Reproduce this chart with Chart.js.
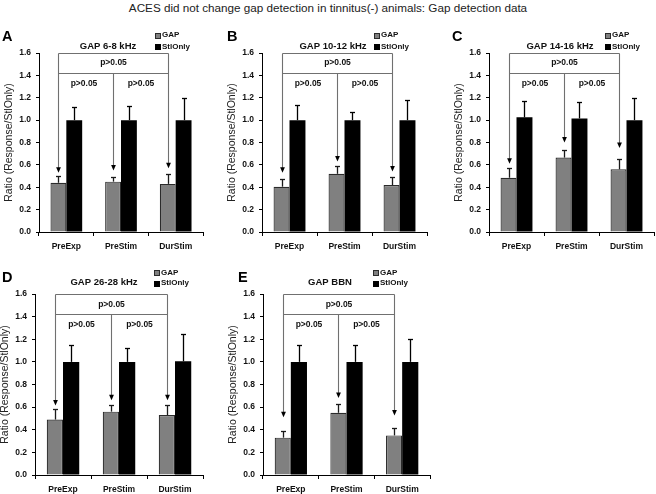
<!DOCTYPE html>
<html><head><meta charset="utf-8">
<script src="https://cdn.jsdelivr.net/npm/chart.js@4.4.1/dist/chart.umd.min.js"></script>
<style>
html,body{margin:0;padding:0;background:#fff;}
body{width:656px;height:494px;position:relative;overflow:hidden;}
#mainTitle{position:absolute;left:0;top:1px;width:656px;text-align:center;font:11.7px "Liberation Sans",Arial,sans-serif;color:#222;white-space:nowrap;}
canvas{position:absolute;}
</style></head><body>
<div id="mainTitle">ACES did not change gap detection in tinnitus(-) animals: Gap detection data</div>
<canvas id="cA"></canvas><canvas id="cB"></canvas><canvas id="cC"></canvas><canvas id="cD"></canvas><canvas id="cE"></canvas>
<script>
// ---- data ----
const categories = ['PreExp', 'PreStim', 'DurStim'];
const seriesNames = ['GAP', 'StlOnly'];
const yTickLabels = ['0.0', '0.2', '0.4', '0.6', '0.8', '1.0', '1.2', '1.4', '1.6'];
const panelLetters = ['A', 'B', 'C', 'D', 'E'];
const panelTitles = ['GAP 6-8 kHz', 'GAP 10-12 kHz', 'GAP 14-16 kHz', 'GAP 26-28 kHz', 'GAP BBN'];
const pLabel = 'p>0.05';

const gapA = [0.44, 0.45, 0.43];
const gapErrA = [0.065, 0.04, 0.085];
const stlA = [1.0, 1.0, 1.0];
const stlErrA = [0.12, 0.13, 0.20];
const arrowA = [0.53, 0.55, 0.57];

const gapB = [0.405, 0.52, 0.42];
const gapErrB = [0.065, 0.07, 0.07];
const stlB = [1.0, 1.0, 1.0];
const stlErrB = [0.135, 0.075, 0.18];
const arrowB = [0.53, 0.63, 0.54];

const gapC = [0.485, 0.665, 0.56];
const gapErrC = [0.085, 0.07, 0.095];
const stlC = [1.025, 1.015, 1.0];
const stlErrC = [0.145, 0.145, 0.195];
const arrowC = [0.61, 0.80, 0.75];

const gapD = [0.49, 0.56, 0.53];
const gapErrD = [0.09, 0.06, 0.09];
const stlD = [1.0, 1.0, 1.005];
const stlErrD = [0.15, 0.12, 0.245];
const arrowD = [0.615, 0.66, 0.66];

const gapE = [0.33, 0.55, 0.35];
const gapErrE = [0.06, 0.075, 0.065];
const stlE = [1.0, 1.0, 1.0];
const stlErrE = [0.15, 0.145, 0.20];
const arrowE = [0.51, 0.68, 0.525];

// bracket levels in data units
const bracketTop = 1.6;
const bracketMid = 1.42;
const pTopLevel = 1.51;
const pLowLevel = 1.33;

// ---- layout (pixels) ----
const panelData = [
  [gapA, gapErrA, stlA, stlErrA, arrowA],
  [gapB, gapErrB, stlB, stlErrB, arrowB],
  [gapC, gapErrC, stlC, stlErrC, arrowC],
  [gapD, gapErrD, stlD, stlErrD, arrowD],
  [gapE, gapErrE, stlE, stlErrE, arrowE]
];
const areas = [ // chart area left, right, top, bottom; letter dx; title dx; legend dx; row
  {L:39, R:203, T:53, B:232, ldx:-37, tdx:69, gdx:116, row:0},
  {L:262, R:427, T:53, B:232, ldx:-35, tdx:71, gdx:112, row:0},
  {L:489, R:654, T:53, B:232, ldx:-37, tdx:71, gdx:116, row:0},
  {L:35, R:203, T:294, B:475, ldx:-33, tdx:69, gdx:119, row:1},
  {L:263, R:430, T:294, B:475, ldx:-25, tdx:67, gdx:110, row:1}
];
const AXW = 39;
const FONT = '"Liberation Sans", Arial, sans-serif';

const panelPlugin = {
  id: 'panelDecor',
  afterDatasetsDraw(chart) {
    const o = chart.options.plugins.panelDecor;
    const ctx = chart.ctx;
    const ys = chart.scales.y;
    const mG = chart.getDatasetMeta(0), mS = chart.getDatasetMeta(1);
    ctx.save();
    // error bars
    [[mG, o.gapErr, '#1a1a1a'], [mS, o.stlErr, '#000']].forEach(([meta, errs, col]) => {
      meta.data.forEach((el, j) => {
        const v = chart.data.datasets[meta.index].data[j];
        const x = Math.round(el.x) + 0.5;
        const yt = Math.round(ys.getPixelForValue(v + errs[j])) + 0.5;
        ctx.strokeStyle = col; ctx.lineWidth = 1.3;
        ctx.beginPath(); ctx.moveTo(x, el.y); ctx.lineTo(x, yt); ctx.stroke();
        ctx.beginPath(); ctx.moveTo(x - 2.5, yt); ctx.lineTo(x + 2.5, yt); ctx.stroke();
      });
    });
    // brackets
    const xs = mG.data.map(e => Math.round(e.x) + 0.5);
    const yTop = Math.round(ys.getPixelForValue(bracketTop)) + 0.5;
    const yMid = Math.round(ys.getPixelForValue(bracketMid)) + 0.5;
    const tips = o.arrows.map(v => ys.getPixelForValue(v));
    ctx.strokeStyle = '#707070'; ctx.lineWidth = 1.1;
    ctx.beginPath();
    ctx.moveTo(xs[0], yTop); ctx.lineTo(xs[2], yTop);
    ctx.moveTo(xs[0], yMid); ctx.lineTo(xs[2], yMid);
    ctx.moveTo(xs[0], yTop); ctx.lineTo(xs[0], tips[0] - 4);
    ctx.moveTo(xs[2], yTop); ctx.lineTo(xs[2], tips[2] - 4);
    ctx.moveTo(xs[1], yMid); ctx.lineTo(xs[1], tips[1] - 4);
    ctx.stroke();
    ctx.fillStyle = '#000';
    xs.forEach((x, i) => {
      ctx.beginPath();
      ctx.moveTo(x, tips[i]); ctx.lineTo(x - 2.4, tips[i] - 5.5); ctx.lineTo(x + 2.4, tips[i] - 5.5);
      ctx.closePath(); ctx.fill();
    });
    // p labels
    ctx.font = 'bold 8.5px ' + FONT; ctx.textAlign = 'center'; ctx.textBaseline = 'middle';
    ctx.fillStyle = '#111';
    ctx.fillText(pLabel, (xs[0] + xs[2]) / 2, ys.getPixelForValue(pTopLevel));
    ctx.fillText(pLabel, (xs[0] + xs[1]) / 2 - 2, ys.getPixelForValue(pLowLevel));
    ctx.fillText(pLabel, (xs[1] + xs[2]) / 2, ys.getPixelForValue(pLowLevel));
    // panel title, letter, legend
    const ca = chart.chartArea;
    const titleY = o.row === 0 ? ca.top - 6.5 : ca.top - 12;
    ctx.font = 'bold 9.5px ' + FONT; ctx.fillStyle = '#111';
    ctx.fillText(o.title, ca.left + o.tdx, titleY);
    ctx.font = 'bold 14.5px ' + FONT; ctx.fillStyle = '#000'; ctx.textAlign = 'left';
    ctx.fillText(o.letter, ca.left + o.ldx, ca.top - (o.row === 0 ? 16 : 16));
    const gy = o.row === 0 ? ca.top - 18 : ca.top - 21.5;
    const sy = o.row === 0 ? ca.top - 6.5 : ca.top - 11;
    const lx = Math.round(ca.left + o.gdx) + 0.5;
    ctx.font = 'bold 8px ' + FONT;
    [[gy, '#808080', '#2b2b2b', chart.data.datasets[0].label], [sy, '#000', '#000', chart.data.datasets[1].label]].forEach(([yy, fc, bc, txt]) => {
      const y0 = Math.round(yy - 2.5) + 0.5;
      ctx.fillStyle = fc; ctx.fillRect(lx, y0, 5, 5);
      ctx.strokeStyle = bc; ctx.lineWidth = 1; ctx.strokeRect(lx, y0, 5, 5);
      ctx.fillStyle = '#111'; ctx.fillText(txt, lx + 6.5, yy);
    });
    ctx.restore();
  }
};

areas.forEach((a, i) => {
  const [gap, gapErr, stl, stlErr, arrows] = panelData[i];
  const cv = document.getElementById('c' + panelLetters[i]);
  const cLeft = a.L - AXW;
  const cTop = a.T - 40;
  const cRight = Math.min(656, a.R + 4);
  const cBottom = a.row === 0 ? a.B + 24 : 494;
  const w = cRight - cLeft, h = cBottom - cTop;
  cv.width = w; cv.height = h;
  cv.style.left = cLeft + 'px'; cv.style.top = cTop + 'px';
  cv.style.width = w + 'px'; cv.style.height = h + 'px';
  const xH = cBottom - a.B;
  new Chart(cv, {
    type: 'bar',
    data: {
      labels: categories,
      datasets: [
        {label: seriesNames[0], data: gap, backgroundColor: '#808080', borderColor: '#2b2b2b', borderWidth: 1.2, categoryPercentage: 0.58, barPercentage: 1.0},
        {label: seriesNames[1], data: stl, backgroundColor: '#000', borderColor: '#000', borderWidth: 0, categoryPercentage: 0.58, barPercentage: 1.0}
      ]
    },
    options: {
      responsive: false, animation: false, devicePixelRatio: 1,
      layout: {padding: {left: 0, top: a.T - cTop, right: cRight - a.R, bottom: 0}},
      plugins: {
        legend: {display: false}, tooltip: {enabled: false},
        panelDecor: {gapErr, stlErr, arrows, title: panelTitles[i], letter: panelLetters[i], tdx: a.tdx, ldx: a.ldx, gdx: a.gdx, row: a.row}
      },
      scales: {
        x: {
          grid: {display: true, drawOnChartArea: false, drawTicks: true, tickLength: 4, color: '#000', offset: true, lineWidth: 1},
          border: {display: true, color: '#000', width: 1},
          ticks: {font: {family: FONT, size: 8.5, weight: 'bold'}, color: '#111', padding: 6, maxRotation: 0, autoSkip: false},
          afterFit(s) { s.height = xH; }
        },
        y: {
          min: 0, max: 1.6,
          ticks: {stepSize: 0.2, callback: (v) => yTickLabels[Math.round(v / 0.2)], font: {family: FONT, size: 8.5, weight: 'bold'}, color: '#111', padding: 5},
          grid: {display: true, drawOnChartArea: false, drawTicks: true, tickLength: 3, color: '#000'},
          border: {display: true, color: '#000', width: 1},
          title: {display: true, text: 'Ratio (Response/StlOnly)', font: {family: FONT, size: 10.5}, color: '#222', padding: {top: 3, bottom: 0}},
          afterFit(s) { s.width = AXW; }
        }
      }
    },
    plugins: [panelPlugin]
  });
});
</script>
</body></html>
